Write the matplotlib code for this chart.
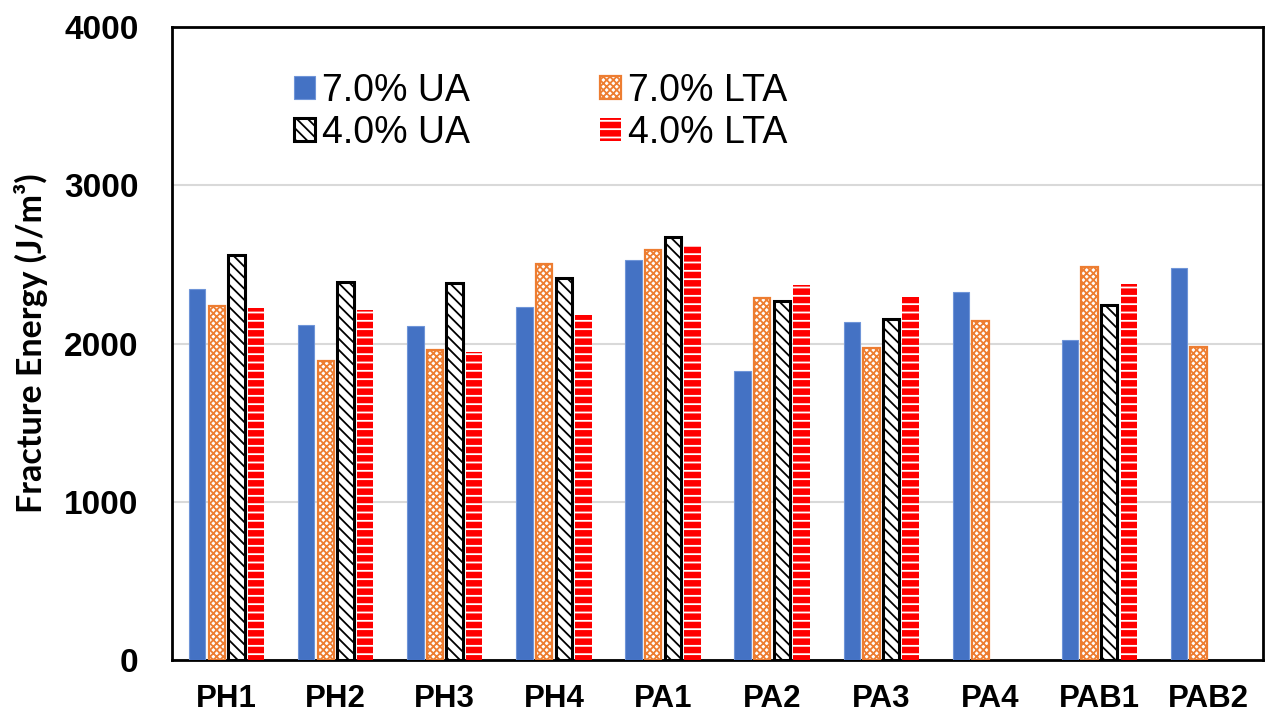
import matplotlib
matplotlib.use('Agg')

import numpy as np
import matplotlib.pyplot as plt

# -------------------------
# Data
# -------------------------
mixes = ['PH1', 'PH2', 'PH3', 'PH4', 'PA1', 'PA2', 'PA3', 'PA4', 'PAB1', 'PAB2']

ua_70  = [2342, 2119, 2111, 2229, 2528, 1825, 2136, 2325, 2022, 2479]
lta_70 = [2239, 1889, 1962, 2500, 2591, 2290, 1969, 2140, 2482, 1980]
ua_40  = [2561, 2387, 2382, 2416, 2675, 2269, 2157, np.nan, 2243, np.nan]
lta_40 = [2226, 2212, 1948, 2182, 2621, 2372, 2296, np.nan, 2376, np.nan]

yticks = [0, 1000, 2000, 3000, 4000]

# -------------------------
# Styling
# -------------------------
plt.rcParams['font.family'] = ['Liberation Sans', 'DejaVu Sans']
plt.rcParams['hatch.linewidth'] = 1.3

fig = plt.figure(figsize=(12.66, 7.19), dpi=100)
ax = fig.add_axes([0.1359, 0.0821, 0.9976 - 0.1359, 0.9624 - 0.0821])

x = np.arange(len(mixes))
w = 0.15
step = 0.18

b1 = ax.bar(x - 1.5 * step, ua_70, w, color='#4472C4', edgecolor='#6F95D8',
            linewidth=0.8, label='7.0% UA', zorder=3)
b2 = ax.bar(x - 0.5 * step, lta_70, w, color='white', edgecolor='#ED7D31',
            hatch='xxxxx', linewidth=1.6, label='7.0% LTA', zorder=3)
b3 = ax.bar(x + 0.5 * step, ua_40, w, color='white', edgecolor='black',
            hatch='\\\\\\', linewidth=2.2, label='4.0% UA', zorder=3)
b4 = ax.bar(x + 1.5 * step, lta_40, w, color='#FF0000', edgecolor='white',
            hatch='--', linewidth=0, label='4.0% LTA', zorder=3)

# -------------------------
# Axes
# -------------------------
ax.set_xlim(-0.5, len(mixes) - 0.5)
ax.set_ylim(0, 4000)
ax.set_yticks(yticks)
ax.set_yticklabels([str(v) for v in yticks])
ax.set_xticks(x)
ax.set_xticklabels(mixes)
ax.tick_params(axis='y', length=0, pad=24, labelsize=24)
ax.tick_params(axis='x', length=0, pad=17, labelsize=22.5)
for lab in ax.get_xticklabels() + ax.get_yticklabels():
    lab.set_fontweight('bold')

ax.grid(axis='y', color='#D9D9D9', linewidth=1.5, zorder=0)
ax.set_axisbelow(True)
for sp in ax.spines.values():
    sp.set_linewidth(2)
    sp.set_color('black')

ax.set_ylabel('Fracture Energy (J/m³)', fontsize=24.5, fontweight='bold',
              family=['Lato', 'DejaVu Sans'], labelpad=12)

# column-major fill: UA pair in the first column, LTA pair in the second
ax.legend([b1, b3, b2, b4], ['7.0% UA', '4.0% UA', '7.0% LTA', '4.0% LTA'],
          loc='upper left', bbox_to_anchor=(0.1118, 0.928), ncol=2,
          frameon=False, fontsize=27, borderpad=0, borderaxespad=0,
          handlelength=0.55, handleheight=0.55, handletextpad=0.2,
          labelspacing=0.16, columnspacing=3.47)

plt.savefig('out.png', dpi=100)
plt.close()
